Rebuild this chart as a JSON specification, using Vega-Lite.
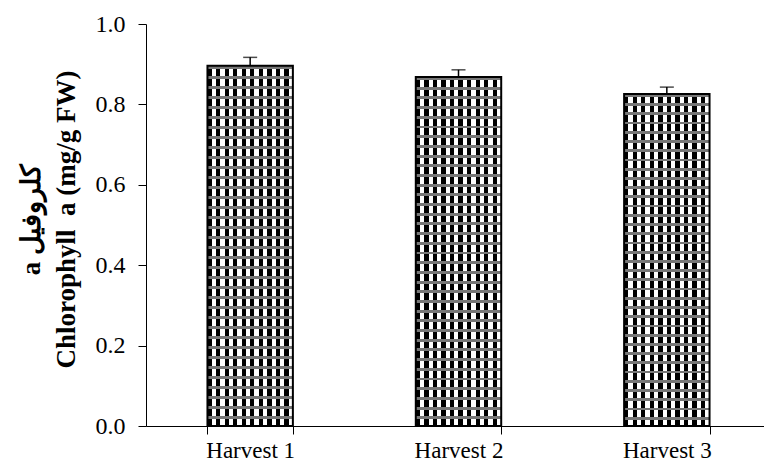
{
  "$schema": "https://vega.github.io/schema/vega-lite/v6.json",
  "autosize": {"type": "none"},
  "width": 618,
  "height": 402,
  "padding": {"left": 146, "top": 24, "right": 0, "bottom": 38},
  "background": "white",
  "config": {"view": {"stroke": null}},
  "data": {"values": [
    {"harvest": "Harvest 1", "value": 0.896, "upper": 0.917},
    {"harvest": "Harvest 2", "value": 0.868, "upper": 0.886},
    {"harvest": "Harvest 3", "value": 0.826, "upper": 0.843}
  ]},
  "encoding": {
    "x": {
      "field": "harvest", "type": "nominal", "sort": null,
      "scale": {"range": [0, 625], "paddingInner": 0.59, "paddingOuter": 0.295},
      "axis": {
        "title": null, "labelAngle": 0, "tickBand": "extent",
        "domainColor": "black", "domainWidth": 1, "tickColor": "black", "tickSize": 8, "tickWidth": 1,
        "labelFont": "Liberation Serif", "labelFontSize": 23, "labelColor": "black", "labelPadding": 5
      }
    }
  },
  "layer": [
    {
      "mark": {"type": "bar", "fill": {"gradient": "linear", "x1": 0, "y1": 0, "x2": 1, "y2": 0, "stops": [
        {"offset": 0, "color": "#000"}, {"offset": 0.05, "color": "#000"}, {"offset": 0.05, "color": "#fff"}, {"offset": 0.1, "color": "#fff"},
        {"offset": 0.1, "color": "#000"}, {"offset": 0.15, "color": "#000"}, {"offset": 0.15, "color": "#fff"}, {"offset": 0.2, "color": "#fff"},
        {"offset": 0.2, "color": "#000"}, {"offset": 0.25, "color": "#000"}, {"offset": 0.25, "color": "#fff"}, {"offset": 0.3, "color": "#fff"},
        {"offset": 0.3, "color": "#000"}, {"offset": 0.35, "color": "#000"}, {"offset": 0.35, "color": "#fff"}, {"offset": 0.4, "color": "#fff"},
        {"offset": 0.4, "color": "#000"}, {"offset": 0.45, "color": "#000"}, {"offset": 0.45, "color": "#fff"}, {"offset": 0.5, "color": "#fff"},
        {"offset": 0.5, "color": "#000"}, {"offset": 0.55, "color": "#000"}, {"offset": 0.55, "color": "#fff"}, {"offset": 0.6, "color": "#fff"},
        {"offset": 0.6, "color": "#000"}, {"offset": 0.65, "color": "#000"}, {"offset": 0.65, "color": "#fff"}, {"offset": 0.7, "color": "#fff"},
        {"offset": 0.7, "color": "#000"}, {"offset": 0.75, "color": "#000"}, {"offset": 0.75, "color": "#fff"}, {"offset": 0.8, "color": "#fff"},
        {"offset": 0.8, "color": "#000"}, {"offset": 0.85, "color": "#000"}, {"offset": 0.85, "color": "#fff"}, {"offset": 0.9, "color": "#fff"},
        {"offset": 0.9, "color": "#000"}, {"offset": 0.95, "color": "#000"}, {"offset": 0.95, "color": "#fff"}, {"offset": 1, "color": "#fff"}
      ]}},
      "encoding": {
        "y": {
          "field": "value", "type": "quantitative",
          "scale": {"domain": [0, 1], "nice": false, "zero": true},
          "axis": {
            "values": [0, 0.2, 0.4, 0.6, 0.8, 1.0], "format": ".1f", "grid": false,
            "domainColor": "black", "domainWidth": 1, "tickColor": "black", "tickSize": 8, "tickWidth": 1,
            "labelFont": "Liberation Serif", "labelFontSize": 24, "labelColor": "black", "labelPadding": 13,
            "title": ["a کلروفیل", "Chlorophyll\u00a0 a (mg/g FW)"],
            "titleFont": "Liberation Serif", "titleFontSize": 27, "titleFontWeight": "bold", "titleColor": "black",
            "titleLineHeight": 35, "titlePadding": 15, "titleY": 195
          }
        }
      }
    },
    {
      "mark": {"type": "bar", "stroke": "black", "strokeWidth": 2, "fill": {"gradient": "linear", "x1": 0, "y1": 0, "x2": 0, "y2": 1, "stops": [
        {"offset": 0, "color": "#777"}, {"offset": 0.00833, "color": "#777"}, {"offset": 0.00833, "color": "transparent"}, {"offset": 0.02778, "color": "transparent"},
        {"offset": 0.02778, "color": "#777"}, {"offset": 0.03611, "color": "#777"}, {"offset": 0.03611, "color": "transparent"}, {"offset": 0.05556, "color": "transparent"},
        {"offset": 0.05556, "color": "#777"}, {"offset": 0.06389, "color": "#777"}, {"offset": 0.06389, "color": "transparent"}, {"offset": 0.08333, "color": "transparent"},
        {"offset": 0.08333, "color": "#777"}, {"offset": 0.09167, "color": "#777"}, {"offset": 0.09167, "color": "transparent"}, {"offset": 0.11111, "color": "transparent"},
        {"offset": 0.11111, "color": "#777"}, {"offset": 0.11944, "color": "#777"}, {"offset": 0.11944, "color": "transparent"}, {"offset": 0.13889, "color": "transparent"},
        {"offset": 0.13889, "color": "#777"}, {"offset": 0.14722, "color": "#777"}, {"offset": 0.14722, "color": "transparent"}, {"offset": 0.16667, "color": "transparent"},
        {"offset": 0.16667, "color": "#777"}, {"offset": 0.175, "color": "#777"}, {"offset": 0.175, "color": "transparent"}, {"offset": 0.19444, "color": "transparent"},
        {"offset": 0.19444, "color": "#777"}, {"offset": 0.20278, "color": "#777"}, {"offset": 0.20278, "color": "transparent"}, {"offset": 0.22222, "color": "transparent"},
        {"offset": 0.22222, "color": "#777"}, {"offset": 0.23056, "color": "#777"}, {"offset": 0.23056, "color": "transparent"}, {"offset": 0.25, "color": "transparent"},
        {"offset": 0.25, "color": "#777"}, {"offset": 0.25833, "color": "#777"}, {"offset": 0.25833, "color": "transparent"}, {"offset": 0.27778, "color": "transparent"},
        {"offset": 0.27778, "color": "#777"}, {"offset": 0.28611, "color": "#777"}, {"offset": 0.28611, "color": "transparent"}, {"offset": 0.30556, "color": "transparent"},
        {"offset": 0.30556, "color": "#777"}, {"offset": 0.31389, "color": "#777"}, {"offset": 0.31389, "color": "transparent"}, {"offset": 0.33333, "color": "transparent"},
        {"offset": 0.33333, "color": "#777"}, {"offset": 0.34167, "color": "#777"}, {"offset": 0.34167, "color": "transparent"}, {"offset": 0.36111, "color": "transparent"},
        {"offset": 0.36111, "color": "#777"}, {"offset": 0.36944, "color": "#777"}, {"offset": 0.36944, "color": "transparent"}, {"offset": 0.38889, "color": "transparent"},
        {"offset": 0.38889, "color": "#777"}, {"offset": 0.39722, "color": "#777"}, {"offset": 0.39722, "color": "transparent"}, {"offset": 0.41667, "color": "transparent"},
        {"offset": 0.41667, "color": "#777"}, {"offset": 0.425, "color": "#777"}, {"offset": 0.425, "color": "transparent"}, {"offset": 0.44444, "color": "transparent"},
        {"offset": 0.44444, "color": "#777"}, {"offset": 0.45278, "color": "#777"}, {"offset": 0.45278, "color": "transparent"}, {"offset": 0.47222, "color": "transparent"},
        {"offset": 0.47222, "color": "#777"}, {"offset": 0.48056, "color": "#777"}, {"offset": 0.48056, "color": "transparent"}, {"offset": 0.5, "color": "transparent"},
        {"offset": 0.5, "color": "#777"}, {"offset": 0.50833, "color": "#777"}, {"offset": 0.50833, "color": "transparent"}, {"offset": 0.52778, "color": "transparent"},
        {"offset": 0.52778, "color": "#777"}, {"offset": 0.53611, "color": "#777"}, {"offset": 0.53611, "color": "transparent"}, {"offset": 0.55556, "color": "transparent"},
        {"offset": 0.55556, "color": "#777"}, {"offset": 0.56389, "color": "#777"}, {"offset": 0.56389, "color": "transparent"}, {"offset": 0.58333, "color": "transparent"},
        {"offset": 0.58333, "color": "#777"}, {"offset": 0.59167, "color": "#777"}, {"offset": 0.59167, "color": "transparent"}, {"offset": 0.61111, "color": "transparent"},
        {"offset": 0.61111, "color": "#777"}, {"offset": 0.61944, "color": "#777"}, {"offset": 0.61944, "color": "transparent"}, {"offset": 0.63889, "color": "transparent"},
        {"offset": 0.63889, "color": "#777"}, {"offset": 0.64722, "color": "#777"}, {"offset": 0.64722, "color": "transparent"}, {"offset": 0.66667, "color": "transparent"},
        {"offset": 0.66667, "color": "#777"}, {"offset": 0.675, "color": "#777"}, {"offset": 0.675, "color": "transparent"}, {"offset": 0.69444, "color": "transparent"},
        {"offset": 0.69444, "color": "#777"}, {"offset": 0.70278, "color": "#777"}, {"offset": 0.70278, "color": "transparent"}, {"offset": 0.72222, "color": "transparent"},
        {"offset": 0.72222, "color": "#777"}, {"offset": 0.73056, "color": "#777"}, {"offset": 0.73056, "color": "transparent"}, {"offset": 0.75, "color": "transparent"},
        {"offset": 0.75, "color": "#777"}, {"offset": 0.75833, "color": "#777"}, {"offset": 0.75833, "color": "transparent"}, {"offset": 0.77778, "color": "transparent"},
        {"offset": 0.77778, "color": "#777"}, {"offset": 0.78611, "color": "#777"}, {"offset": 0.78611, "color": "transparent"}, {"offset": 0.80556, "color": "transparent"},
        {"offset": 0.80556, "color": "#777"}, {"offset": 0.81389, "color": "#777"}, {"offset": 0.81389, "color": "transparent"}, {"offset": 0.83333, "color": "transparent"},
        {"offset": 0.83333, "color": "#777"}, {"offset": 0.84167, "color": "#777"}, {"offset": 0.84167, "color": "transparent"}, {"offset": 0.86111, "color": "transparent"},
        {"offset": 0.86111, "color": "#777"}, {"offset": 0.86944, "color": "#777"}, {"offset": 0.86944, "color": "transparent"}, {"offset": 0.88889, "color": "transparent"},
        {"offset": 0.88889, "color": "#777"}, {"offset": 0.89722, "color": "#777"}, {"offset": 0.89722, "color": "transparent"}, {"offset": 0.91667, "color": "transparent"},
        {"offset": 0.91667, "color": "#777"}, {"offset": 0.925, "color": "#777"}, {"offset": 0.925, "color": "transparent"}, {"offset": 0.94444, "color": "transparent"},
        {"offset": 0.94444, "color": "#777"}, {"offset": 0.95278, "color": "#777"}, {"offset": 0.95278, "color": "transparent"}, {"offset": 0.97222, "color": "transparent"},
        {"offset": 0.97222, "color": "#777"}, {"offset": 0.98056, "color": "#777"}, {"offset": 0.98056, "color": "transparent"}, {"offset": 1, "color": "transparent"}
      ]}},
      "encoding": {"y": {"field": "value", "type": "quantitative"}}
    },
    {
      "mark": {"type": "rule", "color": "black", "strokeWidth": 1.5},
      "encoding": {"y": {"field": "value", "type": "quantitative"}, "y2": {"field": "upper"}}
    },
    {
      "mark": {"type": "tick", "color": "black", "thickness": 1.5, "size": 14},
      "encoding": {"y": {"field": "upper", "type": "quantitative"}}
    }
  ]
}
